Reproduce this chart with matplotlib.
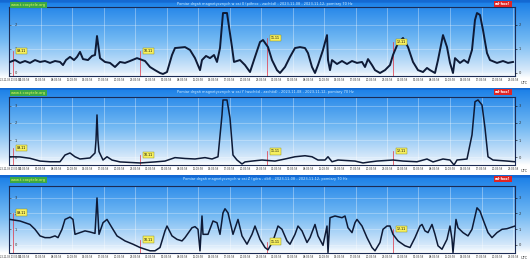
import numpy as np
import matplotlib
matplotlib.use("Agg")
from matplotlib import pyplot as plt
from matplotlib.transforms import ScaledTranslation

W, H = 530, 263
PANEL_H = H / 3

# x in "time units" (0 .. 101.2 across the plot), y in tick units
X1 = [0.2, 1.2, 2.2, 3.2, 4.2, 5.2, 6.2, 7.2, 8.2, 9.2, 10.2, 10.8, 11.4, 12.2, 13.0, 13.6, 14.2, 14.8,
      15.8, 16.6, 17.2, 17.6, 18.2, 19.2, 20.2, 21.2, 22.2, 23.2, 24.2, 25.6, 27.2, 28.2, 29.2, 30.2,
      30.8, 31.6, 32.6, 33.2, 35.2, 36.2, 37.2, 38.2, 38.6, 39.4, 40.2, 41.0, 41.6, 42.2, 42.8, 43.6,
      43.8, 44.6, 45.0, 46.2, 47.2, 48.2, 49.2, 50.2, 50.8, 51.8, 52.6, 53.6, 54.2, 55.2, 56.2, 57.2,
      58.2, 59.2, 59.8, 60.6, 61.2, 61.8, 62.8, 63.6, 63.8, 64.2, 64.6, 65.6, 66.6, 67.6, 68.6, 69.6,
      70.6, 71.2, 71.8, 72.6, 73.2, 74.2, 75.2, 76.2, 76.8, 77.8, 78.8, 79.8, 80.8, 81.8, 82.8, 83.6,
      84.2, 85.2, 85.8, 86.6, 86.8, 87.6, 88.2, 88.8, 89.2, 90.2, 91.0, 91.8, 92.6, 93.2, 93.6, 94.2,
      94.8, 95.6, 96.2, 97.6, 98.8, 99.8, 100.8]
Y1 = [0.46, 0.54, 0.42, 0.5, 0.42, 0.54, 0.46, 0.5, 0.42, 0.5, 0.46, 0.33, 0.54, 0.67, 0.54, 0.67, 0.88, 0.58,
      0.54, 0.71, 0.75, 1.54, 0.62, 0.46, 0.42, 0.25, 0.46, 0.42, 0.5, 0.62, 0.5, 0.25, 0.12, 0.0,
      -0.04, 0.04, 0.75, 1.04, 1.08, 0.96, 0.62, 0.12, 0.54, 0.71, 0.62, 0.75, 0.46, 1.04, 2.5, 2.5,
      2.21, 1.08, 0.46, 0.54, 0.33, 0.04, 0.67, 1.29, 1.375, 1.08, 0.54, 0.12, 0.0, 0.25, 0.67, 1.04,
      1.08, 1.04, 0.83, 0.25, 0.0, 0.33, 0.96, 1.58, 0.54, 0.12, 0.54, 0.375, 0.5, 0.375, 0.5, 0.42,
      0.46, 0.25, 0.58, 0.33, 0.12, 0.0, 0.12, 0.33, 0.75, 1.25, 1.46, 1.08, 0.46, 0.12, 0.04, 0.21,
      0.12, 0.0, 0.54, 1.375, 1.58, 1.08, 0.42, 0.0, 0.62, 0.42, 0.54, 0.42, 0.96, 2.21, 2.5, 2.42,
      1.79, 0.83, 0.54, 0.42, 0.5, 0.42, 0.46]

X2 = [0.2, 2.2, 4.2, 6.2, 8.2, 10.2, 11.2, 12.2, 13.2, 14.2, 16.2, 17.2, 17.4, 17.6, 17.8, 18.0, 18.8,
      19.6, 20.6, 22.2, 26.2, 29.2, 31.2, 33.2, 35.2, 37.2, 39.2, 40.6, 41.8, 42.6, 42.8, 43.6, 44.2,
      44.8, 45.6, 46.6, 47.2, 48.6, 50.6, 53.2, 55.2, 57.2, 59.2, 60.6, 61.8, 63.2, 63.8, 64.6, 65.8,
      69.2, 70.8, 72.2, 73.6, 76.8, 78.8, 81.6, 83.6, 84.8, 86.8, 88.2, 89.0, 89.6, 91.6, 92.6, 93.2,
      93.8, 94.6, 95.2, 95.8, 96.8, 99.6, 101.2]
Y2 = [0.03, 0.02, -0.06, -0.22, -0.26, -0.26, 0.13, 0.25, 0.03, -0.1, -0.04, 0.25, 1.0, 2.46, 1.0, 0.33, -0.16,
      0.03, -0.16, -0.27, -0.33, -0.27, -0.22, -0.02, -0.07, -0.1, -0.02, -0.1, 0.03, 2.46, 3.33, 3.33, 2.28,
      0.13, -0.16, -0.39, -0.27, -0.22, -0.16, -0.22, -0.1, 0.03, 0.09, 0.03, -0.16, -0.16, 0.03, -0.26, -0.16,
      -0.22, -0.33, -0.27, -0.22, -0.16, -0.22, -0.26, -0.1, -0.27, -0.1, -0.16, -0.45, -0.16, -0.1, 1.3, 3.23,
      3.33, 3.04, 1.7, 0.03, -0.16, -0.22, -0.26]

X3 = [0.2, 2.2, 4.2, 5.2, 6.2, 7.2, 8.2, 9.2, 9.8, 10.6, 11.2, 12.2, 12.8, 13.2, 14.2, 15.2, 16.2, 17.2,
      17.6, 18.0, 18.8, 19.6, 20.6, 21.6, 23.2, 24.8, 26.2, 28.2, 29.2, 30.2, 31.2, 31.6, 32.6, 33.6,
      34.6, 35.2, 36.6, 37.2, 37.8, 38.2, 38.6, 38.8, 39.8, 40.8, 41.6, 42.2, 42.8, 43.2, 43.8, 44.8,
      45.8, 46.6, 47.6, 48.6, 49.2, 50.2, 51.2, 51.8, 52.8, 53.8, 54.6, 55.6, 56.2, 57.2, 57.8, 58.6,
      59.6, 60.2, 61.2, 61.8, 62.8, 63.6, 63.8, 64.2, 65.2, 66.6, 67.2, 67.8, 68.6, 69.2, 69.6, 70.6,
      71.6, 72.6, 73.2, 74.2, 74.8, 75.6, 76.2, 76.8, 77.8, 79.2, 80.2, 81.2, 82.2, 82.6, 83.2, 83.8,
      84.6, 85.2, 85.8, 86.6, 87.6, 88.2, 88.6, 88.8, 89.4, 89.8, 90.8, 91.8, 92.6, 93.6, 94.2, 94.8,
      95.8, 96.6, 97.6, 98.6, 99.6, 101.2]
Y3 = [1.62, 1.52, 1.30, 0.99, 0.57, 0.46, 0.46, 0.57, 0.46, 0.99, 1.62, 1.77, 1.62, 0.67, 0.78, 0.89, 0.82, 0.73,
      2.99, 0.67, 1.41, 1.62, 1.09, 0.57, 0.25, 0.04, -0.17, -0.38, -0.38, -0.17, 0.89, 1.20, 0.57, 0.35,
      0.25, 0.46, 1.09, 1.16, 0.99, -0.38, 1.84, 0.67, 0.67, 1.52, 1.41, 0.67, 2.04, 2.30, 2.04, 0.67,
      1.62, 0.57, 0.04, 0.67, 1.20, 0.35, -0.17, -0.32, 0.25, 1.20, 0.99, 0.25, 0.04, 0.67, 1.20, 0.89,
      0.15, 0.46, 1.30, 0.57, -0.03, 1.20, -0.49, 1.73, 1.84, 1.73, 1.84, 1.09, 0.78, 1.41, 1.62, 1.20,
      0.46, -0.17, -0.38, 0.15, 0.99, 1.20, 1.20, 0.67, 0.25, -0.06, -0.17, 0.46, 1.20, 1.30, 0.89, 0.78,
      1.30, 0.67, -0.06, -0.28, 0.35, 1.20, 0.35, -0.49, 1.62, 1.09, 0.78, 0.57, 0.99, 2.36, 2.15, 1.62,
      0.78, 0.46, 0.78, 0.99, 1.03, 1.20]

# day markers (x, y of the yellow tag)
MARK_X = [0.8, 26.2, 51.6, 76.8]
MARK_Y1 = [0.92, 0.92, 1.46, 1.29]
MARK_Y2 = [0.54, 0.13, 0.34, 0.37]
MARK_Y3 = [2.06, 0.34, 0.21, 0.99]
MARK_TEXT = ["09.11", "10.11", "11.11", "12.11"]

TIME_LABELS = ["23-11-08 23:03:58", "02:03:58", "05:03:58", "08:03:58", "11:03:58", "14:03:58",
               "17:03:58", "20:03:58", "23:03:58", "02:03:58", "05:03:58", "08:03:58", "11:03:58",
               "14:03:58", "17:03:58", "20:03:58", "23:03:58", "02:03:58", "05:03:58", "08:03:58",
               "11:03:58", "14:03:58", "17:03:58", "20:03:58", "23:03:58", "02:03:58", "05:03:58",
               "08:03:58", "11:03:58", "14:03:58", "17:03:58", "20:03:58", "23:03:58"]

TITLES = ["Pomiar drgań magnetycznych w osi X (północ - zachód) - 2023-11-08 - 2023-11-12, pomiary 70 Hz",
          "Pomiar drgań magnetycznych w osi Y (wschód - zachód) - 2023-11-08 - 2023-11-12, pomiary 70 Hz",
          "Pomiar drgań magnetycznych w osi Z (góra - dół) - 2023-11-08 - 2023-11-12, pomiary 70 Hz"]

LINE_COLOR = "#0e1a36"
FRAME_COLOR = "#1b2b55"


def rect(left, top, right, bottom):
    # pixel box -> figure fraction
    return [left / W, 1 - bottom / H, (right - left) / W, (bottom - top) / H]


fig = plt.figure(figsize=(W / 100, H / 100), dpi=100)

# background gradient used by every panel
rows = np.linspace(0, PANEL_H, 200)
stops = [0, 2, 3, 40, 70, 78, PANEL_H]
r = np.interp(rows, stops, [20, 20, 30, 115, 215, 255, 255])
g = np.interp(rows, stops, [105, 105, 130, 185, 233, 255, 255])
b = np.interp(rows, stops, [210, 210, 232, 243, 250, 255, 255])
grad = np.stack([r, g, b], axis=1)[:, None, :] / 255.0

panels = [
    dict(x=X1, y=Y1, my=MARK_Y1, top=7, bottom=76, ylim=(-0.125, 2.75), ticks=[0, 1, 2], lw=1.4),
    dict(x=X2, y=Y2, my=MARK_Y2, top=96.7, bottom=164.5, ylim=(-0.42, 3.52), ticks=[0, 1, 2, 3], lw=1.1),
    dict(x=X3, y=Y3, my=MARK_Y3, top=185.7, bottom=253, ylim=(-0.52, 3.77), ticks=[0, 1, 2, 3], lw=1.1),
]

xticks = np.arange(len(TIME_LABELS)) * 3.15

for i, p in enumerate(panels):
    off = i * PANEL_H
    bg = fig.add_axes(rect(0, off, W, off + PANEL_H), zorder=-5)
    bg.imshow(grad, aspect="auto", extent=(0, 1, 1, 0))
    bg.set_xlim(0, 1)
    bg.set_ylim(1, 0)
    bg.axis("off")

    ax = fig.add_axes(rect(9, p["top"], 515, p["bottom"]))
    ax.patch.set_alpha(0)
    ax.set_xlim(0, 101.2)
    ax.set_ylim(*p["ylim"])

    for gx in xticks[::2]:
        ax.axvline(gx, color="white", lw=0.4, alpha=0.6, zorder=0)
    for gy in p["ticks"]:
        ax.axhline(gy, color="white", lw=0.4, alpha=0.5, zorder=0)

    ax.plot(p["x"], p["y"], color=LINE_COLOR, lw=p["lw"], zorder=3)

    for mx, my, mt in zip(MARK_X, p["my"], MARK_TEXT):
        ax.plot([mx, mx], [p["ylim"][0], my], color="#e03040", lw=0.5, zorder=2)
        ax.text(mx + 1.7, my, mt, fontsize=2.3, ha="center", va="center", zorder=5,
                bbox=dict(boxstyle="square,pad=0.35", fc="#f7f060", ec="#8a8a10", lw=0.3))

    for s in ax.spines.values():
        s.set_color(FRAME_COLOR)
        s.set_linewidth(0.8)

    ax.set_xticks(xticks)
    ax.set_xticklabels(TIME_LABELS, fontsize=2.1, color="#333333", family="Liberation Sans")
    ax.tick_params(axis="x", length=0, pad=1.5)
    first = ax.get_xticklabels()[0]
    first.set_horizontalalignment("left")
    first.set_fontsize(1.8)
    first.set_transform(first.get_transform() + ScaledTranslation(-9 / 100, 0, fig.dpi_scale_trans))

    ax.set_yticks(p["ticks"])
    ax.set_yticklabels([str(t) for t in p["ticks"]], fontsize=2.6, color="#333333")
    ax.tick_params(axis="y", length=1.2, width=0.4, direction="in", pad=-4, colors="#333333")
    for lab in ax.get_yticklabels():
        lab.set_horizontalalignment("left")

    ax2 = ax.twinx()
    ax2.set_ylim(*p["ylim"])
    ax2.set_yticks(p["ticks"])
    ax2.set_yticklabels([str(t) for t in p["ticks"]], fontsize=2.6, color="#333333")
    ax2.tick_params(axis="y", length=1.2, width=0.4, pad=1.5)
    for s in ax2.spines.values():
        s.set_visible(False)

    # header texts
    fig.text(265 / W, 1 - (off + 4) / H, TITLES[i], fontsize=2.5, color="#d8f0ff",
             ha="center", va="center")
    fig.text(11 / W, 1 - (off + 5) / H, "www.t-coxytele.org", fontsize=2.6, color="#f0ff60",
             ha="left", va="center",
             bbox=dict(boxstyle="square,pad=0.3", fc="#3aa845", ec="none"))
    fig.text(503 / W, 1 - (off + 4) / H, "ad-hoc!", fontsize=2.6, color="white",
             ha="center", va="center", weight="bold",
             bbox=dict(boxstyle="square,pad=0.3", fc="#e02424", ec="none"))
    fig.text(524 / W, 1 - (off + 83) / H, "UTC", fontsize=2.6, color="#333333",
             ha="center", va="center")

fig.savefig("out.png", dpi=100)
